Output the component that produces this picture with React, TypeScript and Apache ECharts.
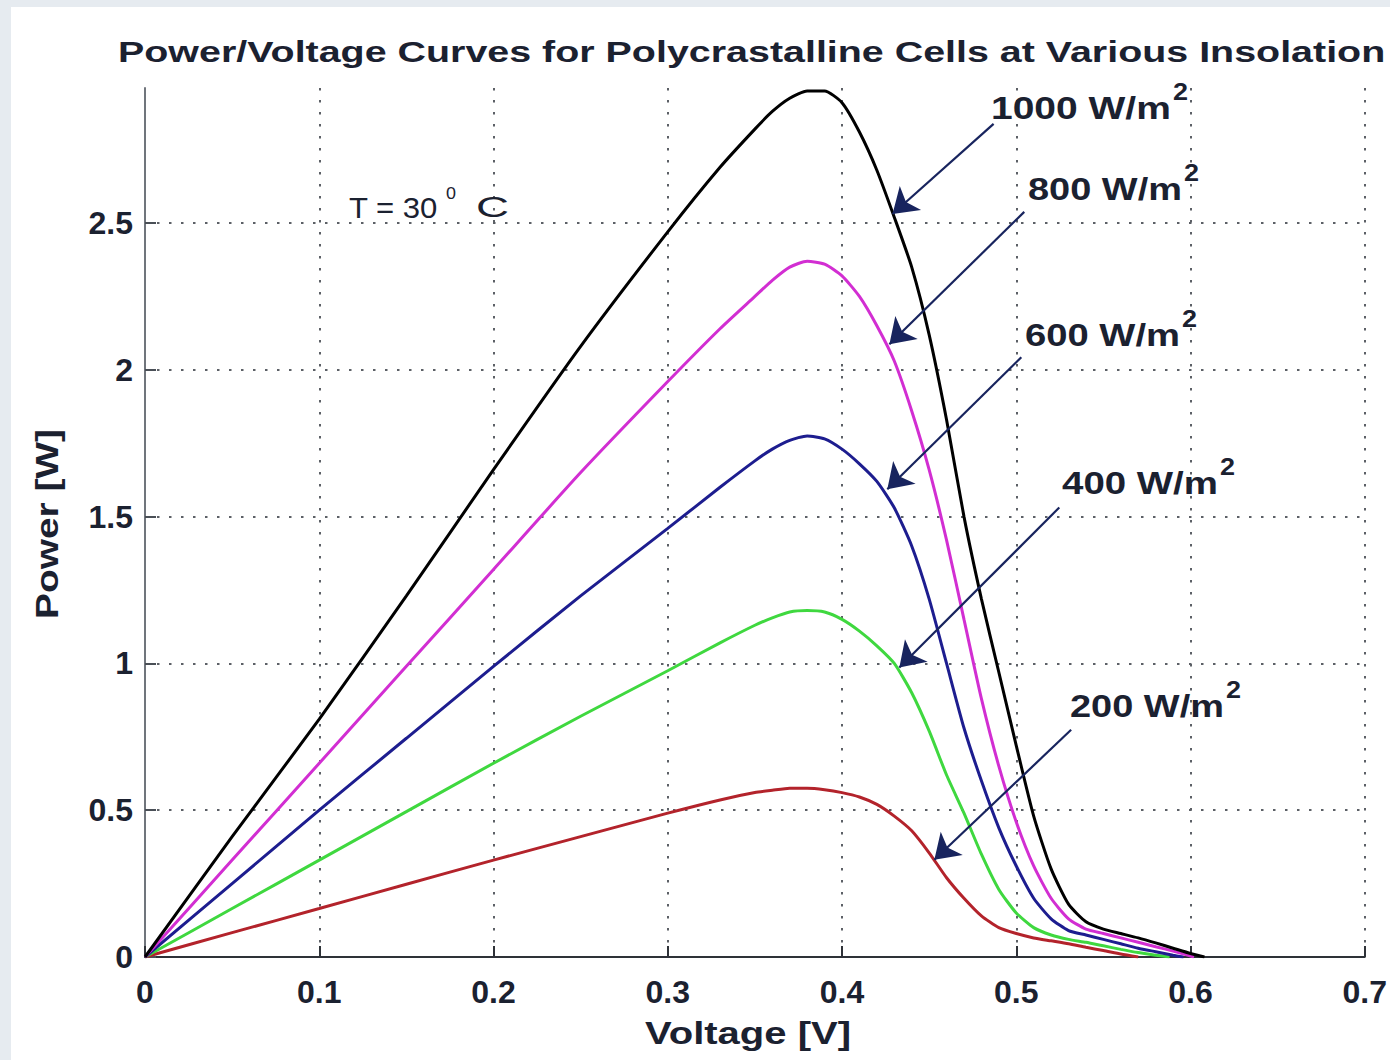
import React, { useEffect, useRef } from "react";
import * as echarts from "echarts";

// ---------- data ----------
const xTickValues = [0, 0.1, 0.2, 0.3, 0.4, 0.5, 0.6, 0.7];
const yTickValues = [0, 0.5, 1, 1.5, 2, 2.5];

const V1000 = [0, 0.05, 0.1, 0.15, 0.2, 0.25, 0.3, 0.33, 0.35, 0.36, 0.37, 0.38, 0.39, 0.4, 0.41, 0.42, 0.43, 0.44, 0.45, 0.46, 0.47, 0.48, 0.49, 0.5, 0.51, 0.52, 0.53, 0.54, 0.55, 0.56, 0.57, 0.58, 0.59, 0.6, 0.608];
const P1000 = [0, 0.41, 0.81, 1.23, 1.66, 2.08, 2.47, 2.69, 2.82, 2.88, 2.925, 2.95, 2.95, 2.91, 2.81, 2.68, 2.52, 2.35, 2.12, 1.83, 1.5, 1.22, 0.97, 0.72, 0.48, 0.3, 0.18, 0.12, 0.095, 0.08, 0.065, 0.048, 0.03, 0.012, 0];

const V800 = [0, 0.05, 0.1, 0.15, 0.2, 0.25, 0.3, 0.33, 0.35, 0.36, 0.37, 0.38, 0.39, 0.4, 0.41, 0.42, 0.43, 0.44, 0.45, 0.46, 0.47, 0.48, 0.49, 0.5, 0.51, 0.52, 0.53, 0.54, 0.55, 0.56, 0.57, 0.58, 0.59, 0.602];
const P800 = [0, 0.33, 0.66, 0.99, 1.32, 1.65, 1.96, 2.14, 2.25, 2.305, 2.35, 2.37, 2.36, 2.32, 2.25, 2.15, 2.03, 1.86, 1.66, 1.42, 1.15, 0.88, 0.65, 0.46, 0.31, 0.2, 0.13, 0.095, 0.08, 0.065, 0.05, 0.035, 0.02, 0];

const V600 = [0, 0.05, 0.1, 0.15, 0.2, 0.25, 0.3, 0.33, 0.35, 0.36, 0.37, 0.38, 0.39, 0.4, 0.41, 0.42, 0.43, 0.44, 0.45, 0.46, 0.47, 0.48, 0.49, 0.5, 0.51, 0.52, 0.53, 0.54, 0.55, 0.56, 0.57, 0.58, 0.59, 0.596];
const P600 = [0, 0.25, 0.5, 0.745, 0.99, 1.23, 1.46, 1.6, 1.69, 1.73, 1.76, 1.775, 1.765, 1.73, 1.68, 1.62, 1.53, 1.4, 1.22, 1.0, 0.78, 0.6, 0.44, 0.31, 0.2, 0.13, 0.09, 0.075, 0.06, 0.045, 0.03, 0.018, 0.006, 0];

const V400 = [0, 0.05, 0.1, 0.15, 0.2, 0.25, 0.3, 0.33, 0.35, 0.36, 0.37, 0.38, 0.39, 0.4, 0.41, 0.42, 0.43, 0.44, 0.45, 0.46, 0.47, 0.48, 0.49, 0.5, 0.51, 0.52, 0.53, 0.54, 0.55, 0.56, 0.57, 0.58, 0.588];
const P400 = [0, 0.165, 0.33, 0.495, 0.66, 0.82, 0.975, 1.07, 1.13, 1.155, 1.175, 1.18, 1.175, 1.15, 1.11, 1.06, 1.0, 0.9, 0.77, 0.62, 0.49, 0.35, 0.23, 0.15, 0.1, 0.075, 0.06, 0.05, 0.038, 0.026, 0.015, 0.006, 0];

const V200 = [0, 0.05, 0.1, 0.15, 0.2, 0.25, 0.3, 0.33, 0.35, 0.36, 0.37, 0.38, 0.39, 0.4, 0.41, 0.42, 0.43, 0.44, 0.45, 0.46, 0.47, 0.48, 0.49, 0.5, 0.51, 0.52, 0.53, 0.54, 0.55, 0.56, 0.57];
const P200 = [0, 0.083, 0.165, 0.248, 0.33, 0.41, 0.49, 0.535, 0.56, 0.568, 0.575, 0.575, 0.57, 0.56, 0.545, 0.52, 0.48, 0.43, 0.355, 0.27, 0.2, 0.14, 0.1, 0.08, 0.065, 0.055, 0.045, 0.033, 0.022, 0.01, 0];

// annotation arrows in data coordinates: [fromV, fromP, toV, toP]
const arrow1000 = [0.487, 2.838, 0.429, 2.531];
const arrow800 = [0.5046, 2.538, 0.4272, 2.087];
const arrow600 = [0.5029, 2.043, 0.426, 1.593];
const arrow400 = [0.5247, 1.531, 0.4329, 0.986];
const arrow200 = [0.5315, 0.774, 0.453, 0.331];

const labels = ["1000 W/m", "800 W/m", "600 W/m", "400 W/m", "200 W/m"];
const titleText = "Power/Voltage Curves for Polycrastalline Cells at Various Insolation";
const xName = "Voltage [V]";
const yName = "Power [W]";

// ---------- helpers ----------
const FONT = '"Liberation Sans", Arial, sans-serif';
const TEXT_COLOR = "#1b2130";

function measure(text: string, font: string): number {
  const ctx = document.createElement("canvas").getContext("2d") as CanvasRenderingContext2D;
  ctx.font = font;
  return ctx.measureText(text).width;
}

function stretched(text: string, x: number, y: number, width: number, size: number, weight: string, align: string, rotation = 0): any {
  const w = measure(text, `${weight} ${size}px ${FONT}`);
  return {
    type: "text",
    x,
    y,
    rotation,
    scaleX: width / w,
    z: 50,
    style: {
      text,
      x: 0,
      y: 0,
      fontSize: size,
      fontWeight: weight,
      fontFamily: FONT,
      fill: TEXT_COLOR,
      align,
      textAlign: align,
      verticalAlign: "middle",
      textVerticalAlign: "middle",
    },
  };
}

function pairs(v: number[], p: number[]) {
  return v.map((x, i) => [x, p[i]]);
}

function arrowLine(a: number[]) {
  return {
    silent: true,
    symbol: ["none", "arrow"],
    symbolSize: 24,
    animation: false,
    label: { show: false },
    emphasis: { disabled: true },
    itemStyle: { color: "#18245e" },
    lineStyle: { color: "#18245e", width: 2.2, type: "solid" },
    data: [[{ coord: [a[0], a[1]] }, { coord: [a[2], a[3]] }]],
  };
}

function curve(name: string, data: number[][], color: string, arrow: number[]) {
  return {
    name,
    type: "line",
    data,
    showSymbol: false,
    smooth: 0.2,
    lineStyle: { color, width: 3 },
    itemStyle: { color },
    emphasis: { disabled: true },
    markLine: arrowLine(arrow),
  };
}

// label layout: [left, right, centerY]
const labelBoxes = [
  [991, 1171, 108],
  [1028, 1182, 189],
  [1025, 1180, 335],
  [1062, 1218, 483],
  [1070, 1224, 706],
];

export default function App() {
  const ref = useRef<HTMLDivElement>(null);

  useEffect(() => {
    if (!ref.current) return;
    const chart = echarts.init(ref.current, null, { renderer: "svg" });

    const graphics: any[] = [
      { type: "rect", shape: { x: 0, y: 0, width: 1390, height: 7 }, style: { fill: "#e6ebf0" }, z: 1 },
      { type: "rect", shape: { x: 0, y: 0, width: 11, height: 1060 }, style: { fill: "#e6ebf0" }, z: 1 },
      stretched(titleText, 118, 51, 1268, 30, "bold", "left"),
      stretched(xName, 645, 1034, 206, 31, "bold", "left"),
      stretched(yName, 47, 524, 190, 31, "bold", "center", Math.PI / 2),
      stretched("T = 30", 349, 207, 89, 30, "normal", "left"),
      stretched("0", 446, 193, 10, 17, "normal", "left"),
      stretched("C", 476, 207, 33, 30, "normal", "left"),
    ];
    labels.forEach((t, i) => {
      const b = labelBoxes[i];
      graphics.push(stretched(t, b[0], b[2], b[1] - b[0], 32, "bold", "left"));
      graphics.push(stretched("2", b[1] + 2, b[2] - 16, 15, 24, "bold", "left"));
    });

    const dotted = { color: "#5c6066", width: 2, type: [2.5, 9.5] };

    chart.setOption({
      animation: false,
      backgroundColor: "#ffffff",
      grid: { left: 145, right: 24, top: 88, bottom: 103, containLabel: false },
      xAxis: {
        type: "value",
        min: 0,
        max: 0.7,
        interval: 0.1,
        axisLine: { show: true, lineStyle: { color: "#2e3238", width: 2 } },
        axisTick: { show: true, inside: true, length: 11, lineStyle: { color: "#2e3238", width: 2 } },
        axisLabel: {
          fontSize: 32,
          fontWeight: "bold",
          fontFamily: FONT,
          color: TEXT_COLOR,
          margin: 19,
          formatter: (v: number) => (v === 0 ? "0" : v.toFixed(1)),
        },
        splitLine: { show: true, showMinLine: false, lineStyle: dotted },
      },
      yAxis: {
        type: "value",
        min: 0,
        max: 2.96,
        interval: 0.5,
        axisLine: { show: true, lineStyle: { color: "#70757c", width: 2 } },
        axisTick: { show: true, inside: true, length: 11, customValues: yTickValues, lineStyle: { color: "#4a4f56", width: 2 } },
        axisLabel: {
          fontSize: 32,
          fontWeight: "bold",
          fontFamily: FONT,
          color: TEXT_COLOR,
          margin: 12,
          customValues: yTickValues,
          formatter: (v: number) => String(+v.toFixed(1)),
        },
        splitLine: { show: true, showMinLine: false, lineStyle: dotted },
      },
      series: [
        curve("200 W/m2", pairs(V200, P200), "#b3232b", arrow200),
        curve("400 W/m2", pairs(V400, P400), "#3fd83f", arrow400),
        curve("600 W/m2", pairs(V600, P600), "#1d1d8f", arrow600),
        curve("800 W/m2", pairs(V800, P800), "#d22ed2", arrow800),
        curve("1000 W/m2", pairs(V1000, P1000), "#000000", arrow1000),
      ],
      graphic: graphics,
    });

    return () => chart.dispose();
  }, []);

  return (
    <div
      ref={ref}
      style={{ position: "fixed", left: 0, top: 0, width: 1390, height: 1060 }}
    />
  );
}
